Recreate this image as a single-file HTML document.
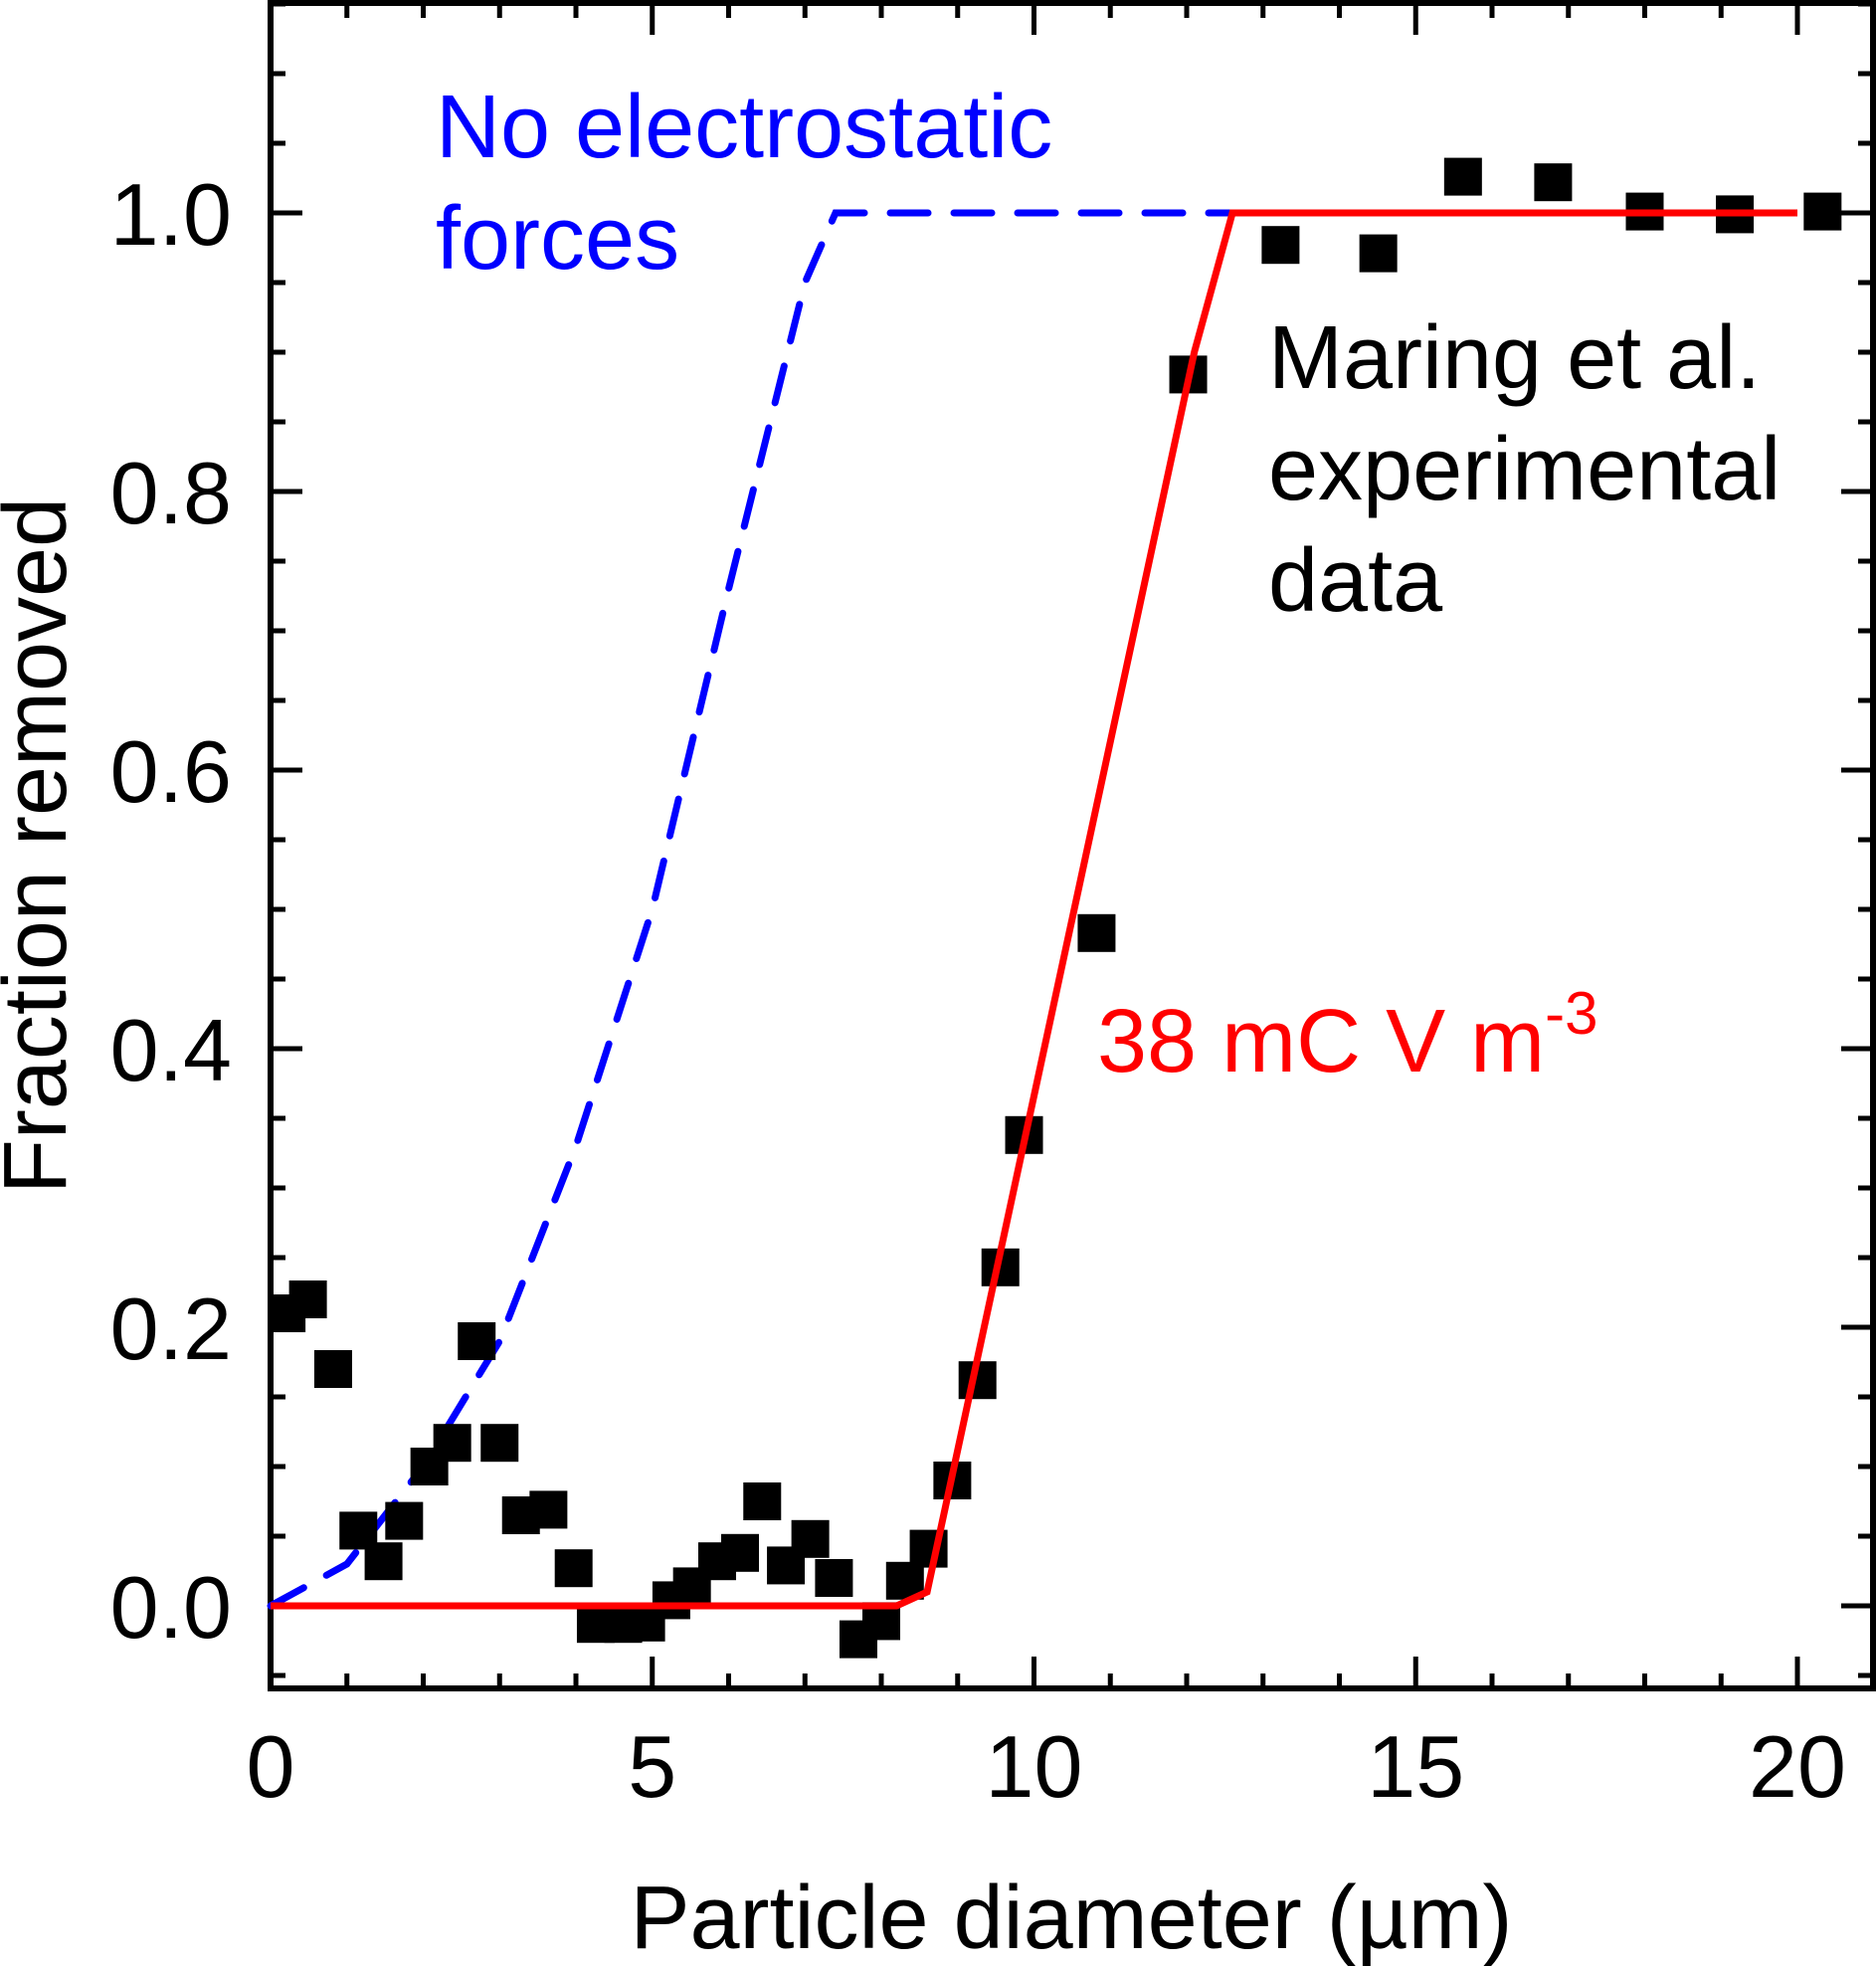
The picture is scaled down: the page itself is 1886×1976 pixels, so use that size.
<!DOCTYPE html>
<html><head><meta charset="utf-8">
<style>
html,body{margin:0;padding:0;background:#fff;}
svg{display:block;}
text{font-family:"Liberation Sans",Arial,sans-serif;}
</style></head>
<body>
<svg id="chart" width="1886" height="1976" viewBox="0 0 1886 1976" xmlns="http://www.w3.org/2000/svg">
<g id="grid"></g>
<g id="series"></g>
<text x="438" y="158" font-size="90" fill="#0000ff">No electrostatic</text>
<text x="438" y="270" font-size="90" fill="#0000ff">forces</text>
<text x="1275" y="390" font-size="90" fill="#000">Maring et al.</text>
<text x="1275" y="502" font-size="90" fill="#000">experimental</text>
<text x="1275" y="614" font-size="90" fill="#000">data</text>
<text x="1103" y="1077" font-size="90" fill="#ff0000">38 mC V m<tspan dy="-38" font-size="60">-3</tspan></text>
<text x="1077" y="1958" font-size="90" text-anchor="middle">Particle diameter (µm)</text>
<text transform="translate(66,850) rotate(-90)" font-size="90" text-anchor="middle">Fraction removed</text>
</svg>
<script>
const dataX = [0.21,0.49,0.82,1.15,1.48,1.75,2.08,2.38,2.70,3.0,3.28,3.64,3.97,4.26,4.62,4.92,5.25,5.52,5.85,6.15,6.44,6.75,7.07,7.38,7.7,8.0,8.31,8.62,8.93,9.26,9.56,9.87,10.82,12.02,13.23,14.51,15.62,16.8,18.0,19.18,20.33];
const dataY = [0.21,0.22,0.17,0.054,0.032,0.061,0.10,0.117,0.19,0.117,0.065,0.069,0.027,-0.013,-0.013,-0.012,0.004,0.014,0.032,0.038,0.075,0.029,0.048,0.02,-0.024,-0.011,0.018,0.041,0.09,0.162,0.243,0.338,0.483,0.884,0.977,0.971,1.026,1.022,1.001,0.999,1.001];
const redX = [0,8.2,8.6,12.1,12.6,20];
const redY = [0,0,0.01,0.9,1.0,1.0];
const blueX = [0,1,2,3,4,5,6,7,7.4,12.6];
const blueY = [0,0.03,0.1,0.19,0.33,0.5,0.73,0.95,1.0,1.0];
const xTicks = [0,5,10,15,20];
const yTicks = [0.0,0.2,0.4,0.6,0.8,1.0];

const NS="http://www.w3.org/2000/svg";
const L=272,R=1883,T=3,B=1697;
const X0=272, XS=76.75, Y0=1614, YS=1400;
const sx=v=>X0+v*XS, sy=v=>Y0-v*YS;
const grid=document.getElementById('grid'), ser=document.getElementById('series');
function mk(tag,attrs,parent){const e=document.createElementNS(NS,tag);for(const k in attrs)e.setAttribute(k,attrs[k]);parent.appendChild(e);return e;}

const fr=mk('rect',{x:L,y:T,width:R-L,height:B-T,fill:'none',stroke:'#000','stroke-width':6},grid);


for(let v=0;v<=21;v++){
  const maj=v%5===0, len=maj?32:15, x=sx(v);
  const t1=mk('line',{x1:x,x2:x,y1:B,y2:B-len,stroke:'#000','stroke-width':5},grid);
  
  
  const t2=mk('line',{x1:x,x2:x,y1:T,y2:T+len,stroke:'#000','stroke-width':5},grid);
  
  
}
xTicks.forEach(v=>{
  const t=mk('text',{x:sx(v),y:1806,'font-size':88,'text-anchor':'middle'},grid);t.textContent=v;
  
  
});
for(let i=-1;i<=23;i++){
  const v=i*0.05, y=sy(v); if(y>B||y<T)continue;
  const maj=i%4===0, len=maj?32:15;
  const t1=mk('line',{x1:L,x2:L+len,y1:y,y2:y,stroke:'#000','stroke-width':5},grid);
  
  
  const t2=mk('line',{x1:R,x2:R-len,y1:y,y2:y,stroke:'#000','stroke-width':5},grid);
  
  
}
yTicks.forEach(v=>{
  const t=mk('text',{x:233,y:sy(v)+32,'font-size':88,'text-anchor':'end'},grid);t.textContent=v.toFixed(1);
  
  
});
const bl=mk('polyline',{points:blueX.map((v,i)=>sx(v)+','+sy(blueY[i])).join(' '),fill:'none',stroke:'#0000ff','stroke-width':7,'stroke-dasharray':'38 26','stroke-linecap':'round'},ser);


dataX.forEach((v,i)=>{
  const s=38;
  const m=mk('rect',{x:sx(v)-s/2,y:sy(dataY[i])-s/2,width:s,height:s,fill:'#000'},ser);
  
  
});
const rl=mk('polyline',{points:redX.map((v,i)=>sx(v)+','+sy(redY[i])).join(' '),fill:'none',stroke:'#ff0000','stroke-width':7,'stroke-linejoin':'miter'},ser);


</script>
</body></html>
